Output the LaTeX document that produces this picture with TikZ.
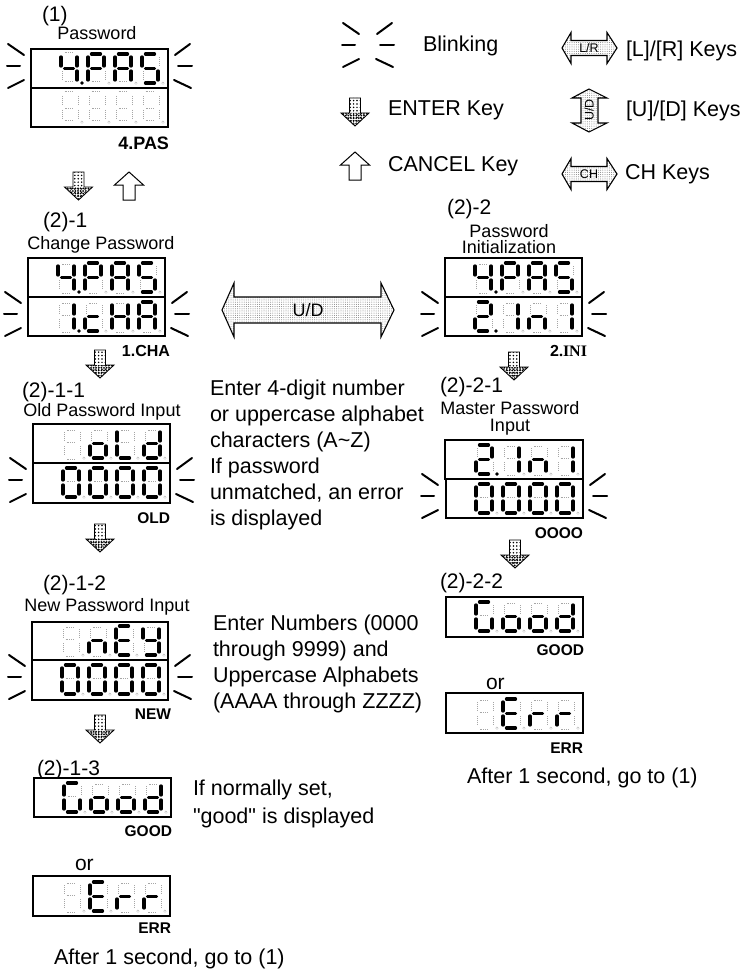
\documentclass[tikz,border=0pt]{standalone}
\usepackage{fontspec}
\setmainfont{Liberation Sans}
\newfontfamily\serifb{Liberation Serif}
\newfontfamily\plainq{Liberation Sans}
\usetikzlibrary{patterns.meta}
\newcommand{\fsz}[2][24]{\fontsize{#2}{#1}\selectfont}
\tikzset{
  x=1pt,y=-1pt,
  panelbox/.style={draw=black,line width=1.5pt,fill=white},
  lit/.style={line width=3.3pt,line cap=round,draw=black},
  ghost/.style={draw=gray!70,line width=.5pt,double=white,double distance=2pt,dash pattern=on .7pt off 1.2pt},
  litdot/.style={fill=black},
  ghostdot/.style={draw=gray!70,line width=.5pt,dash pattern=on .6pt off .8pt},
  blinkline/.style={line width=2pt,line cap=round,draw=black},
  txt/.style={inner sep=0pt,outer sep=0pt,anchor=mid west},
  bigtxt/.style={txt,yshift=-4pt,font=\fsz{21.5}},
  numtxt/.style={txt,yshift=-5pt,font=\fsz{21}},
  captxt/.style={inner sep=0pt,outer sep=0pt,anchor=mid,yshift=-4pt,font=\fsz{18}},
  tagtxt/.style={inner sep=0pt,outer sep=0pt,anchor=mid east,yshift=-3.5pt,font=\bfseries\fsz{15.5}},
  paratxt/.style={inner sep=0pt,outer sep=0pt,anchor=north west,align=left,font={\fsz[26]{21.5}}},
  enterfill/.style={draw=black,line width=.9pt,pattern={Dots[distance=3.4pt,radius=.85pt]},pattern color=black},
  enterhead/.style={pattern={Dots[distance=2.6pt,radius=1pt]},pattern color=black},
  cancelbody/.style={draw=black,line width=1pt,fill=white},
  keybody/.style={draw=black,line width=1.1pt,pattern={Dots[distance=2.2pt,radius=.5pt]},pattern color=gray},
  keytext/.style={inner sep=0pt,anchor=mid,font=\fsz{12.5}},
}
\newcommand{\sgA}{\draw[sgstyle] (3.5,0)--(12.5,0);}
\newcommand{\sgB}{\draw[sgstyle] (16,3)--(16,12);}
\newcommand{\sgC}{\draw[sgstyle] (16,17)--(16,26);}
\newcommand{\sgD}{\draw[sgstyle] (3.5,29)--(12.5,29);}
\newcommand{\sgE}{\draw[sgstyle] (0,17)--(0,26);}
\newcommand{\sgF}{\draw[sgstyle] (0,3)--(0,12);}
\newcommand{\sgG}{\draw[sgstyle] (3.5,14.5)--(12.5,14.5);}
\newcommand{\sgX}{\fill[litdot] (21,29) circle (1.9);}
% one digit: x, y, list of lit segments
\newcommand{\digit}[3]{%
  \begin{scope}[shift={(#1,#2)}]
    \tikzset{sgstyle/.style={ghost}}
    \sgA\sgB\sgC\sgD\sgE\sgF\sgG
    \draw[ghostdot] (21,29) circle (1.2);
    \tikzset{sgstyle/.style={lit}}
    \foreach \s in {#3}{\csname sg\s\endcsname}
  \end{scope}}
% row of four digits in a row of the panel starting at (x,y)
\newcommand{\digits}[6]{%
  \digit{\the\numexpr#1+30\relax}{\the\numexpr#2+5\relax}{#3}%
  \digit{\the\numexpr#1+57\relax}{\the\numexpr#2+5\relax}{#4}%
  \digit{\the\numexpr#1+84\relax}{\the\numexpr#2+5\relax}{#5}%
  \digit{\the\numexpr#1+111\relax}{\the\numexpr#2+5\relax}{#6}}
% blink marks: left edge x0, right edge x1, top y0
\newcommand{\blink}[3]{%
  \begin{scope}[shift={(0,#3)}]
    \draw[blinkline] (#1-23,-5)--(#1-7,6);
    \draw[blinkline] (#1-24,17)--(#1-11,17);
    \draw[blinkline] (#1-23,39)--(#1-7,31);
    \draw[blinkline] (#2+7,6)--(#2+22,-5);
    \draw[blinkline] (#2+10,17)--(#2+24,17);
    \draw[blinkline] (#2+6,31)--(#2+23,39);
  \end{scope}}
% enter key arrow: center x, top y
\newcommand{\enterkey}[2]{%
  \begin{scope}[shift={(#1,#2)}]
    \path[enterfill] (-5.5,0)--(5.5,0)--(5.5,15)--(14,15)--(0,28)--(-14,15)--(-5.5,15)--cycle;
    \path[enterhead] (-13,15)--(13,15)--(0,27)--cycle;
  \end{scope}}
% cancel key arrow: center x, top y
\newcommand{\cancelkey}[2]{%
  \draw[cancelbody,shift={(#1,#2)}] (0,0)--(14.5,13)--(6,13)--(6,28)--(-6,28)--(-6,13)--(-14.5,13)--cycle;}
% horizontal double arrow
\newcommand{\hkey}[7]{%
  \path[keybody] (#1,#5)--(#2,#5-#7)--(#2,#5-#6)--(#3,#5-#6)--(#3,#5-#7)--(#4,#5)--(#3,#5+#7)--(#3,#5+#6)--(#2,#5+#6)--(#2,#5+#7)--cycle;}
\begin{document}
\begin{tikzpicture}
\useasboundingbox (0,0) rectangle (744,971);
\fill[white] (0,0) rectangle (744,971);

% ---------- legend
\blink{366}{370}{28}
\node[bigtxt] (tBlink) at (423,45) {Blinking};
\enterkey{355}{98}
\node[bigtxt] (tEnter) at (388,109) {ENTER Key};
\cancelkey{355}{152}
\node[bigtxt] (tCancel) at (388,165) {CANCEL Key};
\hkey{562}{571}{607}{617}{48}{7.5}{15.5}
\node[keytext] (kLR) at (589,50) {L/R};
\node[bigtxt] (tLR) at (626,50) {[L]/[R] Keys};
\path[keybody] (589,89)--(607,98)--(598,98)--(598,123)--(607,123)--(589,132)--(572,123)--(581,123)--(581,98)--(572,98)--cycle;
\node[keytext,rotate=90] (kUD) at (591,110) {U/D};
\node[bigtxt] (tUD) at (626,110) {[U]/[D] Keys};
\hkey{562}{571}{607}{617}{174}{7.5}{15.5}
\node[keytext] (kCH) at (589,176) {CH};
\node[bigtxt] (tCH) at (625,173) {CH Keys};

% ---------- (1)
\node[numtxt] (n1) at (42,14) {(1)};
\node[captxt] (c1) at (97,33) {Password};
\draw[panelbox] (31,49) rectangle (168,127);
\draw[panelbox] (31,88)--(168,88);
\digits{31}{49}{B,C,F,G,X}{A,B,E,F,G}{A,B,C,E,F,G}{A,C,D,F,G}
\digits{31}{88}{}{}{}{}
\blink{31}{168}{49}
\node[tagtxt,font=\bfseries\fsz{18}] (l1) at (169,143) {4.PAS};
\enterkey{78.5}{172}
\cancelkey{129}{172}

% ---------- (2)-1
\node[numtxt] (n21) at (43,220) {(2)-1};
\node[captxt] (c21) at (101,243) {Change Password};
\draw[panelbox] (28,258) rectangle (165,336);
\draw[panelbox] (28,297)--(165,297);
\digits{28}{258}{B,C,F,G,X}{A,B,E,F,G}{A,B,C,E,F,G}{A,C,D,F,G}
\digits{28}{297}{B,C,X}{D,E,G}{B,C,E,F,G}{A,B,C,E,F,G}
\blink{28}{165}{297}
\node[tagtxt,font=\bfseries\fsz{16}] (l21) at (170,350) {1.CHA};
\enterkey{100}{350}

% ---------- U/D
\hkey{222}{234}{381}{394}{310}{13}{27}
\node[txt,anchor=mid,font=\fsz{18}] (kBig) at (308,314) {U/D};

% ---------- (2)-2
\node[numtxt] (n22) at (447,207) {(2)-2};
\node[captxt,align=center,font={\fsz[16]{18}}] (c22) at (509,247) {Password\\Initialization};
\draw[panelbox] (445,258) rectangle (582,336);
\draw[panelbox] (445,297)--(582,297);
\digits{445}{258}{B,C,F,G,X}{A,B,E,F,G}{A,B,C,E,F,G}{A,C,D,F,G}
\digits{445}{297}{A,B,D,E,G,X}{B,C}{C,E,G}{B,C}
\blink{445}{582}{297}
\node[tagtxt,font=\serifb\bfseries\fsz{16}] (l22) at (587,350) {{\fontspec{Liberation Sans}\bfseries 2}.INI};
\enterkey{514}{352}

% ---------- (2)-1-1
\node[numtxt] (n211) at (22,390) {(2)-1-1};
\node[captxt] (c211) at (102,410) {Old Password Input};
\draw[panelbox] (33,424) rectangle (170,503);
\draw[panelbox] (33,463)--(170,463);
\digits{33}{424}{}{C,D,E,G}{D,E,F}{B,C,D,E,G}
\digits{33}{463}{A,B,C,D,E,F}{A,B,C,D,E,F}{A,B,C,D,E,F}{A,B,C,D,E,F}
\blink{33}{170}{463}
\node[tagtxt] (l211) at (170,517) {OLD};
\enterkey{100}{524}

\node[paratxt] (p1) at (210,380) {Enter 4-digit number\\or uppercase alphabet\\characters (A\textasciitilde Z)\\If password\\unmatched, an error\\is displayed};

% ---------- (2)-1-2
\node[numtxt] (n212) at (43,583) {(2)-1-2};
\node[captxt] (c212) at (107,605) {New Password Input};
\draw[panelbox] (32,622) rectangle (168,700);
\draw[panelbox] (32,660)--(168,660);
\digits{32}{621}{}{C,E,G}{A,D,E,F,G}{B,C,D,F,G}
\digits{32}{660}{A,B,C,D,E,F}{A,B,C,D,E,F}{A,B,C,D,E,F}{A,B,C,D,E,F}
\blink{32}{168}{660}
\node[tagtxt] (l212) at (171,713) {NEW};
\enterkey{100}{715}

\node[paratxt] (p2) at (213,615) {Enter Numbers (0000\\through 9999) and\\Uppercase Alphabets\\(AAAA through ZZZZ)};

% ---------- (2)-1-3
\node[numtxt] (n213) at (37,768) {(2)-1-3};
\draw[panelbox] (34,778) rectangle (171,817);
\digits{34}{778}{A,C,D,E,F}{C,D,E,G}{C,D,E,G}{B,C,D,E,G}
\node[tagtxt] (l213) at (172,830) {GOOD};
\node[paratxt,font={\plainq\fsz[28]{21.5}}] (p3) at (193,780) {If normally set,\\"good" is displayed};
\node[numtxt] (or1) at (75,863) {or};
\draw[panelbox] (33,876) rectangle (170,916);
\digits{33}{877}{}{A,D,E,F,G}{E,G}{E,G}
\node[tagtxt] (l214) at (171,927) {ERR};
\node[bigtxt] (a1) at (54,958) {After 1 second, go to (1)};

% ---------- (2)-2-1
\node[numtxt] (n221) at (440,385) {(2)-2-1};
\node[captxt,align=center,font={\fsz[17]{18}}] (c221) at (510,425) {Master Password\\Input};
\draw[panelbox] (445,440) rectangle (583,479);
\draw[panelbox] (446,479) rectangle (583,518);
\digits{446}{440}{A,B,D,E,G,X}{B,C}{C,E,G}{B,C}
\digits{446}{479}{A,B,C,D,E,F}{A,B,C,D,E,F}{A,B,C,D,E,F}{A,B,C,D,E,F}
\blink{445}{583}{479}
\node[tagtxt] (l221) at (583,532) {OOOO};
\enterkey{515}{540}

% ---------- (2)-2-2
\node[numtxt] (n222) at (440,581) {(2)-2-2};
\draw[panelbox] (446,597) rectangle (583,637);
\digits{446}{597}{A,C,D,E,F}{C,D,E,G}{C,D,E,G}{B,C,D,E,G}
\node[tagtxt] (l222) at (584,649) {GOOD};
\node[numtxt] (or2) at (486,682) {or};
\draw[panelbox] (446,693) rectangle (583,733);
\digits{446}{694}{}{A,D,E,F,G}{E,G}{E,G}
\node[tagtxt] (l223) at (583,747) {ERR};
\node[bigtxt] (a2) at (467,777) {After 1 second, go to (1)};
\end{tikzpicture}
\end{document}
